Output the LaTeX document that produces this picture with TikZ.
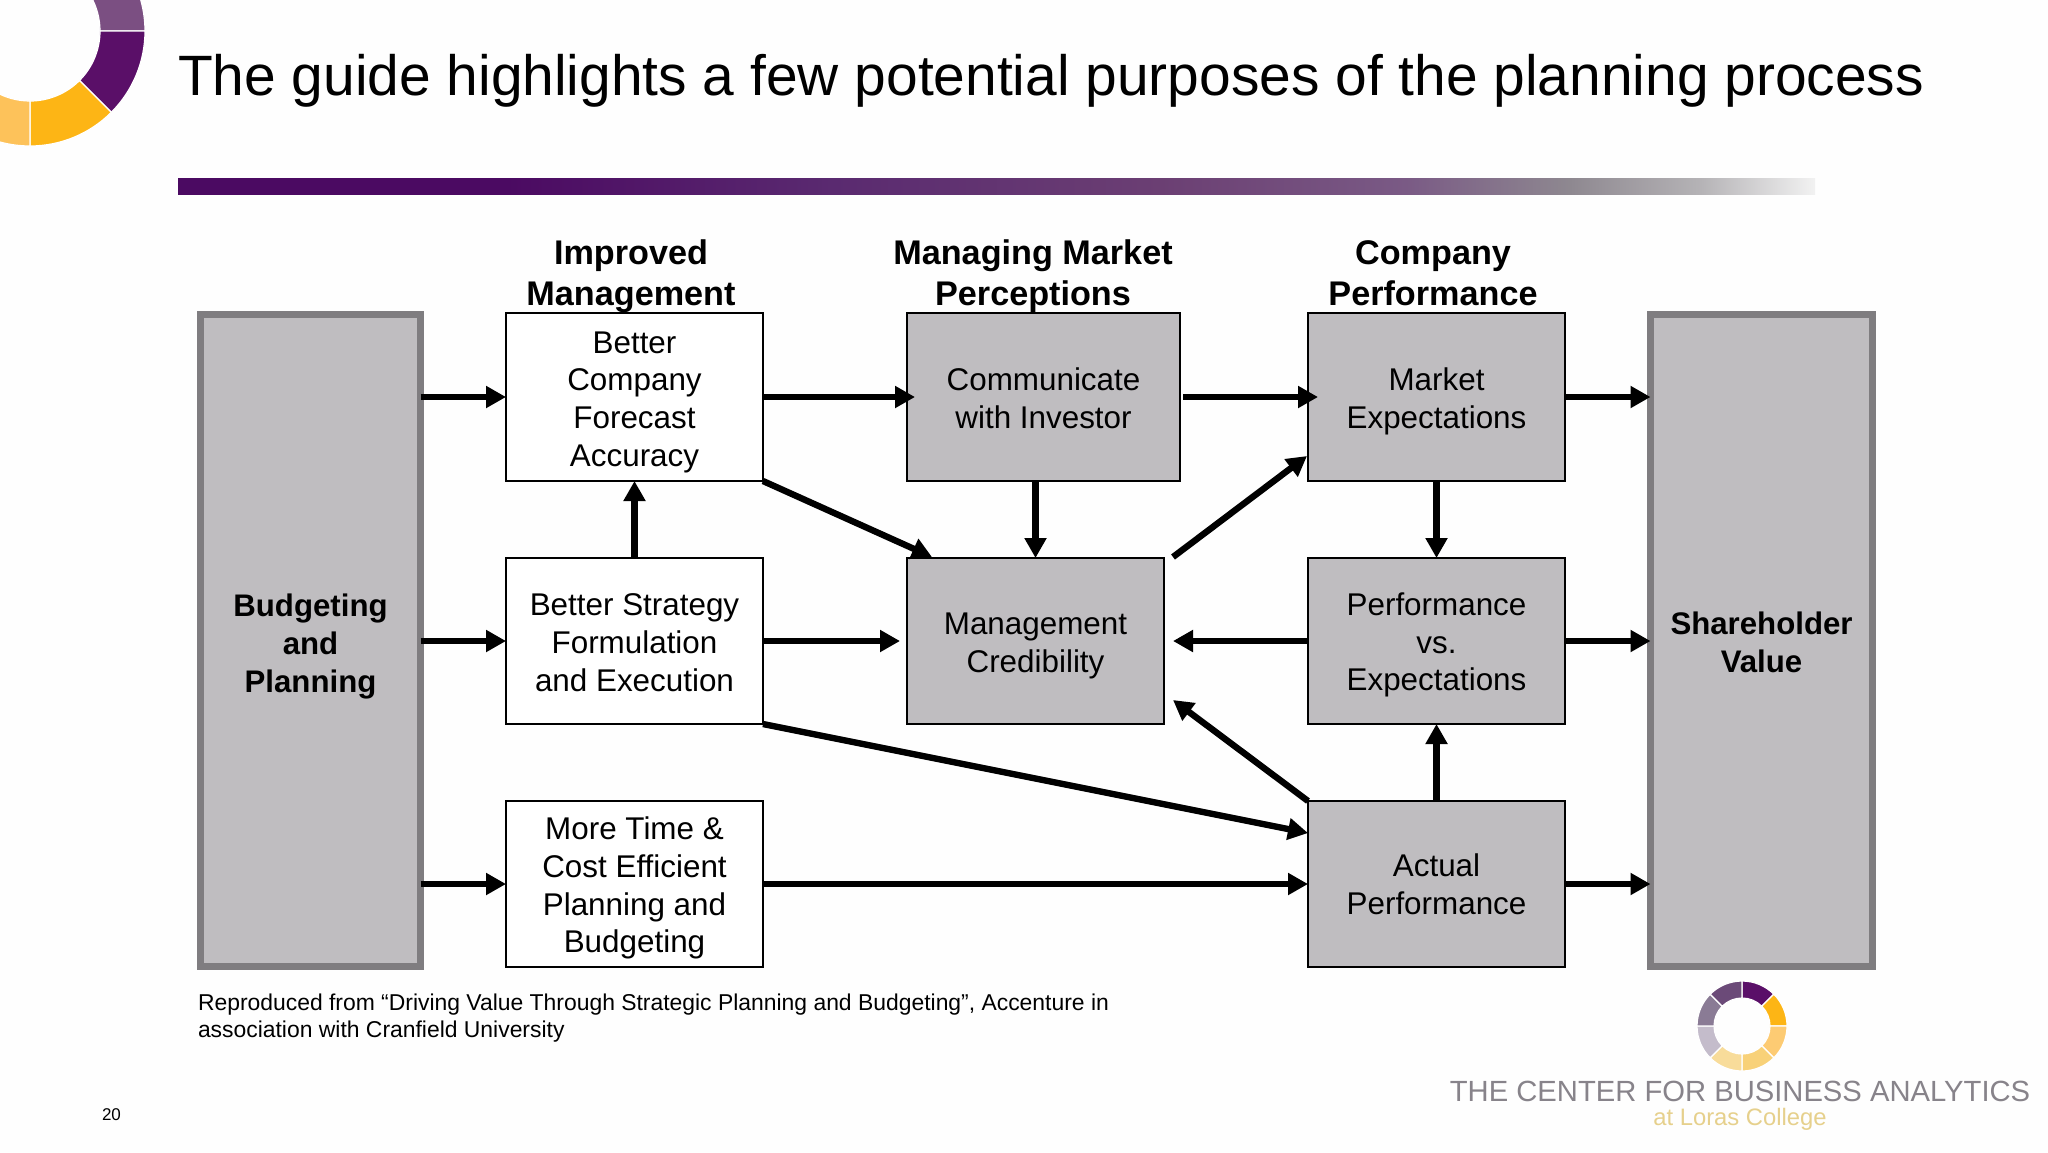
\documentclass[tikz,border=0pt]{standalone}
\usepackage{fontspec}
\setmainfont{Liberation Sans}
\usetikzlibrary{arrows.meta}
\definecolor{boxgrey}{HTML}{BFBDC0}
\definecolor{edgegrey}{HTML}{7F7D80}
\definecolor{deeppurple}{HTML}{5A0F68}
\definecolor{midpurple}{HTML}{6B4A78}
\definecolor{softpurple}{HTML}{7B4F82}
\definecolor{greypurple}{HTML}{8A7B95}
\definecolor{palepurple}{HTML}{C4BCCB}
\definecolor{goldA}{HTML}{FDB515}
\definecolor{goldB}{HTML}{FDC25A}
\definecolor{goldC}{HTML}{F8D178}
\definecolor{goldD}{HTML}{F8DC9A}
\definecolor{logotext}{HTML}{87838A}
\definecolor{logogold}{HTML}{E6D08C}
\definecolor{barA}{HTML}{4B0A62}
\definecolor{barB}{HTML}{5A2A70}
\definecolor{barC}{HTML}{6B3F73}
\definecolor{barD}{HTML}{7A5A85}
\definecolor{barE}{HTML}{8E8890}
\definecolor{barF}{HTML}{B5B3B6}
\definecolor{barG}{HTML}{F2F2F2}
\pgfdeclarehorizontalshading{barfade}{100bp}{
  color(0bp)=(barA); color(35bp)=(barA); color(45bp)=(barB);
  color(55bp)=(barC); color(62.5bp)=(barD);
  color(67.5bp)=(barE); color(71.5bp)=(barF); color(75bp)=(barG); color(100bp)=(barG)}
\tikzset{
  every node/.style={inner sep=0pt,outer sep=0pt,align=center,text=black},
  boxtext/.style={font=\fontsize{15.7}{18.9}\selectfont},
  bigtext/.style={font=\fontsize{15.6}{18.9}\selectfont\bfseries},
  plainbox/.style={draw=black,line width=1.4pt,fill=white},
  greybox/.style={draw=black,line width=1.4pt,fill=boxgrey},
  bigbox/.style={draw=edgegrey,fill=boxgrey,line width=3.5pt},
  header/.style={font=\fontsize{17.1}{20.2}\selectfont\bfseries},
  flow/.style={draw=black,line width=3.2pt,-{Triangle[length=10pt,width=10.5pt]}},
  seg/.style={draw=white,line width=0.6pt}
}
\newcommand{\ringpart}[5]{\fill[#5,seg] (#1:#3) arc[start angle=#1,end angle=#2,radius=#3] -- (#2:#4) arc[start angle=#2,end angle=#1,radius=#4] -- cycle;}
\begin{document}
\begin{tikzpicture}[x=0.5pt,y=-0.5pt]
\useasboundingbox (0,0) rectangle (2048,1152);
\fill[white!99.5!black] (0,0) rectangle (2048,1152);
% top-left ring
\begin{scope}
\clip (0,0) rectangle (2048,1152);
\begin{scope}[shift={(30,31)},y=0.5pt]
\ringpart{0}{60}{115}{70}{softpurple}
\ringpart{-45}{0}{115}{70}{deeppurple}
\ringpart{-90}{-45}{115}{70}{goldA}
\ringpart{-150}{-90}{115}{70}{goldB}
\end{scope}
\end{scope}
% title and bar
\node[anchor=base west,font=\fontsize{28.45}{34}\selectfont] (title) at (178,95) {The guide highlights a few potential purposes of the planning process};
\shade[shading=barfade] (178,178) rectangle (1815,194);
% headers
\node[header,anchor=base] (h1) at (631,305) {Improved\\Management};
\node[header,anchor=base] (h2) at (1033,305) {Managing Market\\Perceptions};
\node[header,anchor=base] (h3) at (1433,305) {Company\\Performance};
% big boxes
\node[bigbox,minimum width=110pt,minimum height=326pt,label={[bigtext,yshift=-3.2pt]center:{Budgeting\\and\\Planning}}] (bp) at (310.5,640) {};
\node[bigbox,minimum width=111pt,minimum height=326pt,label={[bigtext,yshift=-1.3pt]center:{Shareholder\\Value}}] (sv) at (1761.5,640) {};
% boxes
\node[plainbox,minimum width=128.5pt,minimum height=84pt,label={[boxtext,yshift=-2.6pt]center:{Better\\Company\\Forecast\\Accuracy}}] (acc) at (634.5,397) {};
\node[plainbox,minimum width=128.5pt,minimum height=83pt,label={[boxtext,yshift=-0.7pt]center:{Better Strategy\\Formulation\\and Execution}}] (str) at (634.5,641) {};
\node[plainbox,minimum width=128.5pt,minimum height=83pt,label={[boxtext,yshift=-2pt]center:{More Time \&\\Cost Efficient\\Planning and\\Budgeting}}] (tim) at (634.5,884) {};
\node[greybox,minimum width=136.5pt,minimum height=84pt,label={[boxtext,yshift=-0.7pt]center:{Communicate\\with Investor}}] (com) at (1043.5,397) {};
\node[greybox,minimum width=128.5pt,minimum height=83pt,label={[boxtext,yshift=-2.3pt]center:{Management\\Credibility}}] (cre) at (1035.5,641) {};
\node[greybox,minimum width=128.5pt,minimum height=84pt,label={[boxtext,yshift=-2pt]center:{Market\\Expectations}}] (mkt) at (1436.5,397) {};
\node[greybox,minimum width=128.5pt,minimum height=83pt,label={[boxtext,yshift=-2pt]center:{Performance\\vs.\\Expectations}}] (pvs) at (1436.5,641) {};
\node[greybox,minimum width=128.5pt,minimum height=83pt,label={[boxtext]center:{Actual\\Performance}}] (act) at (1436.5,884) {};
% free ends of connectors
\coordinate (creNE) at (1173,557);
\coordinate (creE) at (1173,641);
\coordinate (creSE) at (1173,700);
\coordinate (creW) at (900,641);
\coordinate (comE) at (1183,397);
\coordinate (comTip) at (915,397);
\coordinate (mktWTip) at (1318,397);
\coordinate (creAccTip) at (932,557);
\coordinate (mktTip) at (1307,456);
\coordinate (actTip) at (1308,833);
% connectors
\draw[flow] (bp.east |- acc.west) -- (acc.west);
\draw[flow] (bp.east |- str.west) -- (str.west);
\draw[flow] (bp.east |- tim.west) -- (tim.west);
\draw[flow] (acc.east) -- (comTip);
\draw[flow] (comE) -- (mktWTip);
\draw[flow] (mkt.east) -- (sv.west |- mkt.east);
\draw[flow] (pvs.east) -- (sv.west |- pvs.east);
\draw[flow] (act.east) -- (sv.west |- act.east);
\draw[flow] (str.north) -- (acc.south);
\draw[flow] (com.south -| cre.north) -- (cre.north);
\draw[flow] (mkt.south) -- (pvs.north);
\draw[flow] (act.north) -- (pvs.south);
\draw[flow] (str.east) -- (creW);
\draw[flow] (pvs.west) -- (creE);
\draw[flow] (tim.east) -- (act.west);
\draw[flow] (acc.south east) -- (creAccTip);
\draw[flow] (creNE) -- (mktTip);
\draw[flow] (act.north west) -- (creSE);
\draw[flow] (str.south east) -- (actTip);
% notes
\node[anchor=base west,align=left,font=\fontsize{11.45}{13.5}\selectfont] (note) at (198,1037) {Reproduced from “Driving Value Through Strategic Planning and Budgeting”, Accenture in\\association with Cranfield University};
\node[anchor=base west,font=\fontsize{8.5}{10}\selectfont] (page) at (102,1120) {20};
% bottom logo
\begin{scope}[shift={(1742,1026)},y=0.5pt]
\ringpart{45}{90}{45}{28}{deeppurple}
\ringpart{0}{45}{45}{28}{goldA}
\ringpart{-45}{0}{45}{28}{goldB!85!white}
\ringpart{-90}{-45}{45}{28}{goldC}
\ringpart{-135}{-90}{45}{28}{goldD}
\ringpart{-180}{-135}{45}{28}{palepurple}
\ringpart{135}{180}{45}{28}{greypurple}
\ringpart{90}{135}{45}{28}{midpurple}
\end{scope}
\node[anchor=base,text=logotext,font=\fontsize{14.6}{16}\selectfont] (logo) at (1740,1101) {THE CENTER FOR BUSINESS ANALYTICS};
\node[anchor=base,text=logogold,font=\fontsize{11.9}{13}\selectfont] (loras) at (1740,1125) {at Loras College};
\end{tikzpicture}
\end{document}
